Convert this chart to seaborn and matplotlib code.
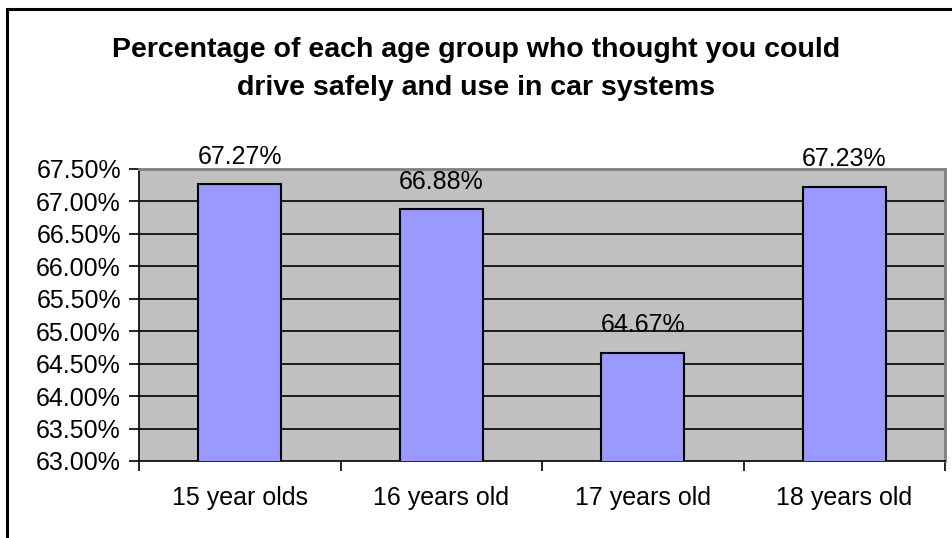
#!/usr/bin/env python
# coding: utf-8

#import the necessary libraries
import pandas as pd
import matplotlib.pyplot as plt
import seaborn as sns
from matplotlib.ticker import MultipleLocator, FuncFormatter, FixedLocator
from matplotlib.patches import Rectangle

sns.set_style("white")
plt.rcParams['font.family'] = ['Liberation Sans', 'DejaVu Sans']
plt.rcParams['text.color'] = 'black'
plt.rcParams['xtick.color'] = 'black'
plt.rcParams['ytick.color'] = 'black'

#data
age_groups = ['15 year olds', '16 years old', '17 years old', '18 years old']
pct_safe = [67.27, 66.88, 64.67, 67.23]

df = pd.DataFrame({'group': age_groups, 'pct': pct_safe})

fig = plt.figure(figsize=(9.52, 5.38), dpi=100)
ax = fig.add_axes([139/952, 1 - 461/538, (945-139)/952, (461-169)/538])

sns.barplot(data=df, x='group', y='pct', color='#9999FF', saturation=1,
            edgecolor='black', linewidth=1.5, width=0.41, ax=ax, zorder=3)

ax.set_facecolor('#C0C0C0')
ax.set_ylim(63, 67.5)
ax.set_xlim(-0.5, 3.5)
ax.yaxis.set_major_locator(MultipleLocator(0.5))
ax.yaxis.set_major_formatter(FuncFormatter(lambda v, p: f'{v:.2f}%'))
for v in [63.5, 64, 64.5, 65, 65.5, 66, 66.5, 67]:
    ax.axhline(v, color='black', linewidth=1.2, zorder=1)

#x ticks between categories
ax.xaxis.set_minor_locator(FixedLocator([-0.5, 0.5, 1.5, 2.5, 3.5]))
ax.tick_params(axis='x', which='major', length=0, labelsize=18, pad=18)
ax.tick_params(axis='x', which='minor', length=7, width=1.2, color='black', direction='out')
ax.tick_params(axis='y', length=7, width=1.2, color='black', direction='out', labelsize=18, pad=6)
ax.tick_params(left=True, bottom=True, which='both')
ax.set_xlabel('')
ax.set_ylabel('')

for s in ['top', 'right']:
    ax.spines[s].set_color('#808080')
    ax.spines[s].set_linewidth(2)
for s in ['left', 'bottom']:
    ax.spines[s].set_color('black')
    ax.spines[s].set_linewidth(1.2)

#value labels
for i, v in enumerate(pct_safe):
    ax.annotate(f'{v:.2f}%', (i, v), xytext=(0, 11), textcoords='offset points',
                ha='center', va='bottom', fontsize=18, annotation_clip=False)

#title
fig.text(0.5, 1 - 50/538, 'Percentage of each age group who thought you could',
         ha='center', va='center', fontsize=20.5, fontweight='bold')
fig.text(0.5, 1 - 88/538, 'drive safely and use in car systems',
         ha='center', va='center', fontsize=20.5, fontweight='bold')

#chart border
fig.patches.append(Rectangle((7/952, -0.05), 1.0, 1 - 9/538 + 0.05, transform=fig.transFigure,
                             fill=False, edgecolor='black', linewidth=2.2))

fig.savefig('out.png', dpi=100)
